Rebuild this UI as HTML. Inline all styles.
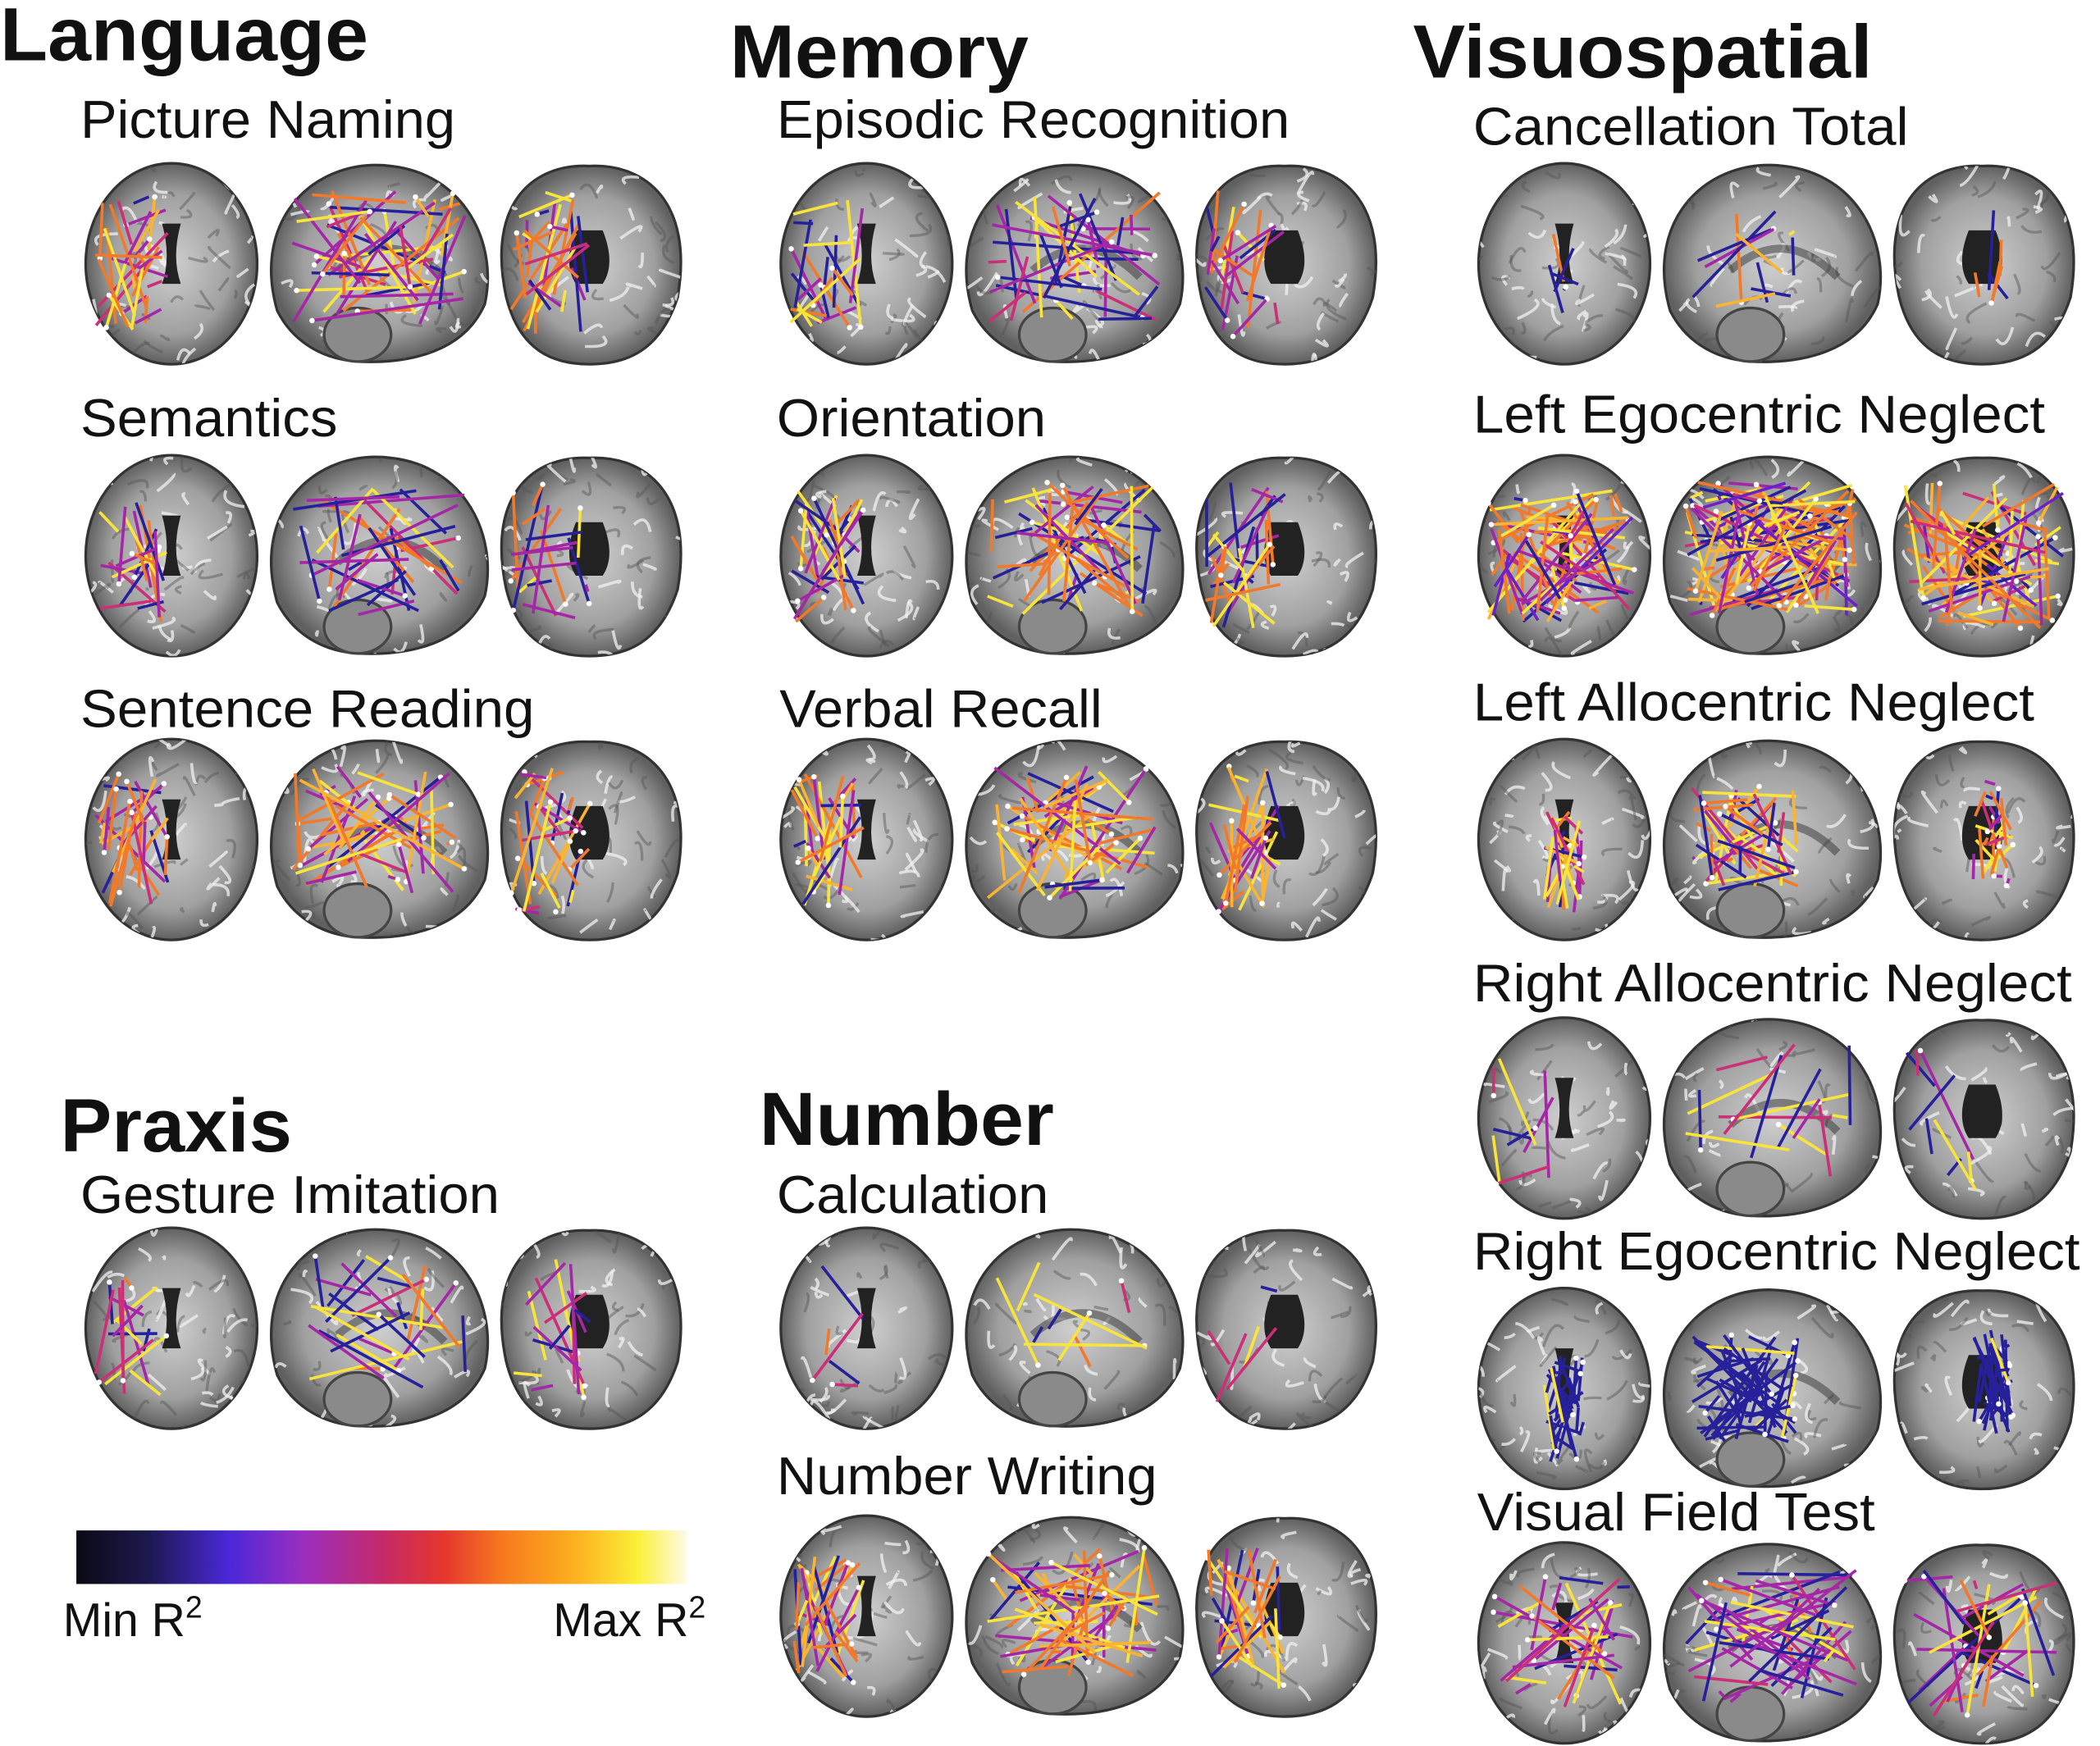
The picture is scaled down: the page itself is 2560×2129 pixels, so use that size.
<!DOCTYPE html>
<html><head><meta charset="utf-8">
<style>
html,body{margin:0;padding:0;background:#fff;}
svg{display:block;}
text{font-family:"Liberation Sans",Arial,sans-serif;fill:#111;}
.h{font-weight:bold;font-size:56px;}
.s{font-size:40px;}
</style></head>
<body>
<svg id="s" width="2560" height="2129" viewBox="0 0 1568 1304" preserveAspectRatio="none" xmlns="http://www.w3.org/2000/svg">
<defs>
<linearGradient id="cb" x1="0" x2="1" y1="0" y2="0">
<stop offset="0" stop-color="#0b0a14"/><stop offset="0.12" stop-color="#1c1950"/>
<stop offset="0.25" stop-color="#4a28d8"/><stop offset="0.37" stop-color="#9a2ec0"/>
<stop offset="0.5" stop-color="#c42a6a"/><stop offset="0.6" stop-color="#e5352e"/>
<stop offset="0.7" stop-color="#f77a1e"/><stop offset="0.82" stop-color="#fcb21f"/>
<stop offset="0.92" stop-color="#fbf03a"/><stop offset="1" stop-color="#fffbe8"/>
</linearGradient>
<radialGradient id="bg1" cx="0.5" cy="0.5" r="0.5">
<stop offset="0" stop-color="#cfcfcf"/><stop offset="0.7" stop-color="#a0a0a0"/><stop offset="1" stop-color="#606060"/>
</radialGradient>
</defs>
<g lengthAdjust="spacingAndGlyphs">
<text class="h" x="0" y="45" textLength="275" lengthAdjust="spacingAndGlyphs">Language</text>
<text class="h" x="545" y="58" textLength="223" lengthAdjust="spacingAndGlyphs">Memory</text>
<text class="h" x="1055" y="58" textLength="343" lengthAdjust="spacingAndGlyphs">Visuospatial</text>
<text class="h" x="45" y="860" textLength="173" lengthAdjust="spacingAndGlyphs">Praxis</text>
<text class="h" x="567" y="855" textLength="220" lengthAdjust="spacingAndGlyphs">Number</text>
<text class="s" x="60" y="103" textLength="280" lengthAdjust="spacingAndGlyphs">Picture Naming</text>
<text class="s" x="580" y="103" textLength="383" lengthAdjust="spacingAndGlyphs">Episodic Recognition</text>
<text class="s" x="1100" y="108" textLength="325" lengthAdjust="spacingAndGlyphs">Cancellation Total</text>
<text class="s" x="60" y="326" textLength="192" lengthAdjust="spacingAndGlyphs">Semantics</text>
<text class="s" x="580" y="326" textLength="201" lengthAdjust="spacingAndGlyphs">Orientation</text>
<text class="s" x="1100" y="323" textLength="427" lengthAdjust="spacingAndGlyphs">Left Egocentric Neglect</text>
<text class="s" x="60" y="543" textLength="339" lengthAdjust="spacingAndGlyphs">Sentence Reading</text>
<text class="s" x="582" y="543" textLength="241" lengthAdjust="spacingAndGlyphs">Verbal Recall</text>
<text class="s" x="1100" y="538" textLength="419" lengthAdjust="spacingAndGlyphs">Left Allocentric Neglect</text>
<text class="s" x="1100" y="748" textLength="447" lengthAdjust="spacingAndGlyphs">Right Allocentric Neglect</text>
<text class="s" x="60" y="906" textLength="313" lengthAdjust="spacingAndGlyphs">Gesture Imitation</text>
<text class="s" x="580" y="906" textLength="203" lengthAdjust="spacingAndGlyphs">Calculation</text>
<text class="s" x="1100" y="948" textLength="453" lengthAdjust="spacingAndGlyphs">Right Egocentric Neglect</text>
<text class="s" x="580" y="1116" textLength="284" lengthAdjust="spacingAndGlyphs">Number Writing</text>
<text class="s" x="1103" y="1143" textLength="297" lengthAdjust="spacingAndGlyphs">Visual Field Test</text>
</g>
<rect x="57" y="1143" width="456" height="40" fill="url(#cb)"/>
<text class="s" x="47" y="1222" style="font-size:35px">Min R<tspan dy="-14" style="font-size:23px">2</tspan></text>
<text class="s" x="413" y="1222" style="font-size:35px">Max R<tspan dy="-14" style="font-size:23px">2</tspan></text>
<g id="brains"></g>
</svg>
<script>
var seed=7;function r(){seed=(seed*16807)%2147483647;return (seed-1)/2147483646;}
var NS="http://www.w3.org/2000/svg",G=document.getElementById("brains");
function el(t,a,par){var e=document.createElementNS(NS,t);for(var k in a)e.setAttribute(k,a[k]);(par||G).appendChild(e);return e;}
var PAL={b:"#26209a",v:"#6a22c8",p:"#a626a8",m:"#cc2e78",o:"#f2792a",y:"#f8e43a",l:"#fbb431"};
var cols=[63,582,1103];
var panels=[
[0,122,45,"ppomoolyb",0],[1,122,35,"bbbppmoyy",0],[2,122,10,"bbyolp",1],
[0,340,30,"ooppbbmy",0],[1,340,45,"bbppoooyy",0],[2,340,110,"ooollyypmvb",2],
[0,552,45,"ppmooollyb",0],[1,552,45,"ppoollyyb",0],[2,552,45,"ppmoolyyb",1],
[2,760,14,"bbmpyy",0],
[0,917,25,"bbppmoyy",0],[1,917,9,"bbyom",0],
[2,962,50,"bbbbbbby",1],
[1,1132,50,"bbppooolly",0],[2,1152,45,"ppppbbyymo",2]
];
var cid=0;
function texture(x,y,w,h,shape){
 var id="c"+(cid++);
 var cp=el("clipPath",{id:id});
 el(shape.tag,shape.a,cp);
 var g=el("g",{"clip-path":"url(#"+id+")"});
 for(var i=0;i<28;i++){
  var px=x+r()*w,py=y+r()*h;
  el("path",{d:"M"+px+" "+py+" q"+(r()*20-10)+" "+(r()*20-10)+" "+(r()*30-15)+" "+(r()*30-15),fill:"none",stroke:"#f2f2f2","stroke-width":2.2,opacity:.75},g);
  var qx=x+r()*w,qy=y+r()*h;
  el("path",{d:"M"+qx+" "+qy+" q"+(r()*20-10)+" "+(r()*20-10)+" "+(r()*30-15)+" "+(r()*30-15),fill:"none",stroke:"#555","stroke-width":2,opacity:.45},g);
 }
}
function brains(x,y){
 var a={cx:x+65,cy:y+75,rx:64,ry:75};
 el("ellipse",Object.assign({fill:"url(#bg1)",stroke:"#333","stroke-width":2},a));
 texture(x,y,130,150,{tag:"ellipse",a:a});
 el("path",{d:"M"+(x+58)+" "+(y+45)+" q7 25 0 45 h14 q-7 -20 0 -45z",fill:"#222"});
 var sx=x+134;
 var sd="M"+(sx+10)+" "+(y+110)+" C"+(sx-10)+" "+(y+40)+" "+(sx+40)+" "+(y-5)+" "+(sx+95)+" "+(y+2)+" C"+(sx+150)+" "+(y+8)+" "+(sx+175)+" "+(y+60)+" "+(sx+165)+" "+(y+105)+" C"+(sx+150)+" "+(y+140)+" "+(sx+110)+" "+(y+150)+" "+(sx+70)+" "+(y+148)+" C"+(sx+40)+" "+(y+146)+" "+(sx+20)+" "+(y+130)+" "+(sx+10)+" "+(y+110)+"z";
 el("path",{d:sd,fill:"url(#bg1)",stroke:"#333","stroke-width":2});
 texture(sx,y,170,150,{tag:"path",a:{d:sd}});
 el("ellipse",{cx:sx+70,cy:y+128,rx:25,ry:20,fill:"#8a8a8a",stroke:"#444","stroke-width":2});
 el("path",{d:"M"+(sx+55)+" "+(y+80)+" q40 -35 80 5",fill:"none",stroke:"#333","stroke-width":6,opacity:.5});
 var cx=x+305;
 var cd="M"+(cx+10)+" "+(y+100)+" C"+(cx-5)+" "+(y+30)+" "+(cx+30)+" "+(y)+" "+(cx+72)+" "+(y+2)+" C"+(cx+115)+" "+(y)+" "+(cx+150)+" "+(y+30)+" "+(cx+138)+" "+(y+100)+" C"+(cx+125)+" "+(y+140)+" "+(cx+100)+" "+(y+150)+" "+(cx+72)+" "+(y+150)+" C"+(cx+45)+" "+(y+150)+" "+(cx+20)+" "+(y+140)+" "+(cx+10)+" "+(y+100)+"z";
 el("path",{d:cd,fill:"url(#bg1)",stroke:"#333","stroke-width":2});
 texture(cx,y,150,150,{tag:"path",a:{d:cd}});
 el("path",{d:"M"+(cx+62)+" "+(y+50)+" q-10 25 0 40 h20 q10 -15 0 -40z",fill:"#222"});
}
panels.forEach(function(p){
 var x=cols[p[0]],y=p[1];brains(x,y);
 var boxes=[[x+8,y+25,p[4]==2?110:55,100],[x+155,y+20,130,100],[x+318,y+20,p[4]==2?120:60,110]];
 if(p[4]==1){boxes[0]=[x+50,y+50,30,80];boxes[1]=[x+160,y+35,80,80];boxes[2]=[x+370,y+30,30,80];}
 boxes.forEach(function(b,i){
  var n=i==1?p[2]:Math.round(p[2]*0.6);
  for(var k=0;k<n;k++){
   var c=PAL[p[3][Math.floor(r()*p[3].length)]];
   var x1=b[0]+r()*b[2],y1=b[1]+r()*b[3],x2=b[0]+r()*b[2],y2=b[1]+r()*b[3];
   el("line",{x1:x1,y1:y1,x2:x2,y2:y2,stroke:c,"stroke-width":2.2});
   if(r()<0.3)el("circle",{cx:x1,cy:y1,r:2,fill:"#fff"});
  }
 });
});
</script>
</body></html>
